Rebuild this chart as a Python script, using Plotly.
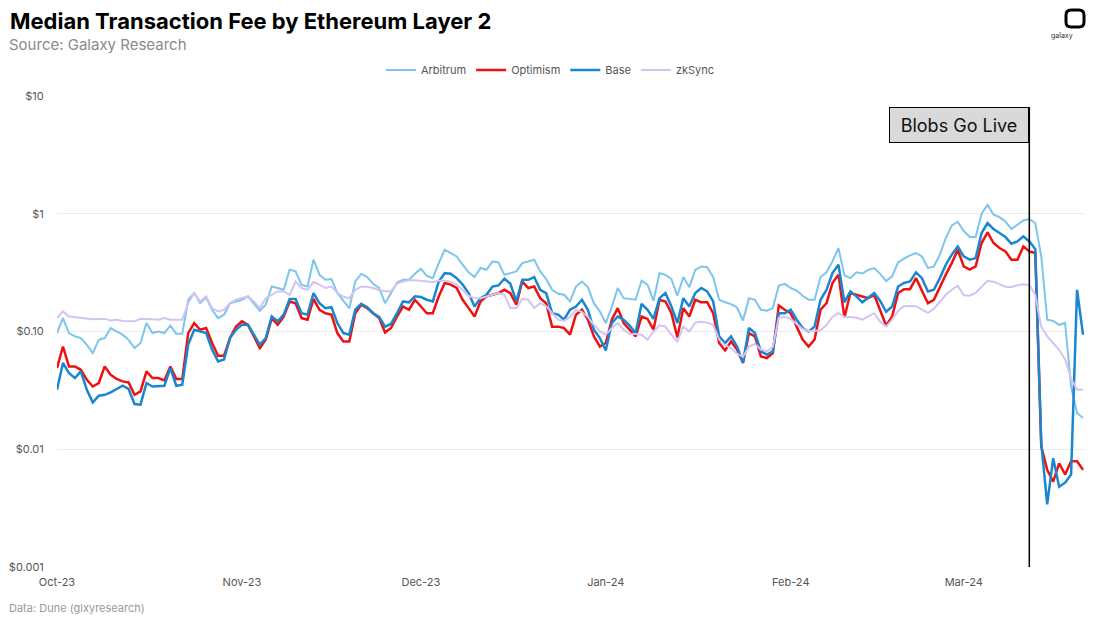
import pandas as pd
import plotly.graph_objects as go

# Daily median fee (USD), 1 Oct 2023 -> 21 Mar 2024
arbitrum = [
    0.097, 0.130, 0.097, 0.091, 0.088, 0.077, 0.0656, 0.085, 0.088, 0.107,
    0.100, 0.094, 0.085, 0.0723, 0.0798, 0.118, 0.097, 0.100, 0.097, 0.112,
    0.0957, 0.0957, 0.186, 0.212, 0.174, 0.195, 0.153, 0.130, 0.139, 0.174,
    0.180, 0.186, 0.199, 0.174, 0.150, 0.169, 0.241, 0.234, 0.226, 0.334,
    0.324, 0.249, 0.241, 0.407, 0.303, 0.275,
    0.279, 0.212, 0.184, 0.157, 0.266, 0.308, 0.290, 0.254, 0.235, 0.174,
    0.212, 0.261, 0.275, 0.275, 0.309, 0.341, 0.297, 0.284, 0.381, 0.495,
    0.464, 0.434, 0.369, 0.318, 0.290, 0.346, 0.334, 0.394, 0.386, 0.303,
    0.313, 0.324, 0.381, 0.394, 0.407, 0.324, 0.279, 0.226, 0.209,
    0.205, 0.180, 0.241, 0.266, 0.238, 0.174, 0.148, 0.118, 0.161, 0.234,
    0.192, 0.189, 0.186, 0.271, 0.249, 0.182, 0.313, 0.303, 0.279, 0.201,
    0.290, 0.238, 0.334, 0.357, 0.352, 0.290, 0.186, 0.177, 0.171, 0.160,
    0.124, 0.192, 0.186, 0.153, 0.150, 0.158, 0.246, 0.254, 0.234, 0.223,
    0.201, 0.186, 0.186, 0.290, 0.318, 0.394, 0.511,
    0.300, 0.284, 0.318, 0.311, 0.334, 0.346, 0.309, 0.268,
    0.294, 0.386, 0.415, 0.443, 0.464, 0.434, 0.346, 0.357, 0.449, 0.622,
    0.796, 0.855, 0.713, 0.634, 0.634, 1.0, 1.19, 0.98, 0.937, 0.86,
    0.74, 0.806, 0.877, 0.90, 0.834, 0.434, 0.126, 0.123, 0.114, 0.118,
    0.0341, 0.0203, 0.0184,
]
optimism = [
    0.0489, 0.0746, 0.0505, 0.0505, 0.0473, 0.0389, 0.0341, 0.0365, 0.0505, 0.0429,
    0.0395, 0.0377, 0.0369, 0.0290, 0.0310, 0.0458, 0.0402, 0.0402, 0.0384, 0.0505,
    0.0395, 0.0395, 0.097, 0.118, 0.1035, 0.107, 0.0798, 0.0622, 0.0622, 0.088,
    0.110, 0.122, 0.114, 0.091, 0.0723, 0.0855, 0.130, 0.114, 0.134, 0.180,
    0.174, 0.130, 0.126, 0.189, 0.153, 0.143,
    0.139, 0.097, 0.0823, 0.0823, 0.143, 0.169, 0.158, 0.143, 0.130, 0.098,
    0.107, 0.134, 0.163, 0.153, 0.186, 0.163, 0.143, 0.143, 0.199, 0.258,
    0.250, 0.234, 0.186, 0.158, 0.134, 0.180, 0.199, 0.205, 0.212, 0.226,
    0.212, 0.169, 0.266, 0.234, 0.241, 0.192, 0.174, 0.110, 0.110,
    0.107, 0.094, 0.139, 0.153, 0.126, 0.091, 0.0746, 0.0798, 0.126, 0.158,
    0.118, 0.1035, 0.091, 0.134, 0.128, 0.1035, 0.186, 0.180, 0.143, 0.089,
    0.158, 0.134, 0.186, 0.177, 0.177, 0.143, 0.0798, 0.069, 0.0823, 0.0703,
    0.054, 0.097, 0.091, 0.0614, 0.0595, 0.0656, 0.166, 0.153, 0.143, 0.110,
    0.0855, 0.0746, 0.0855, 0.153, 0.174, 0.258, 0.304,
    0.131, 0.212, 0.205, 0.199, 0.192, 0.205, 0.150, 0.112,
    0.134, 0.212, 0.229, 0.229, 0.284, 0.219, 0.174, 0.186, 0.241, 0.304,
    0.381, 0.495, 0.357, 0.335, 0.357, 0.564, 0.694, 0.564, 0.511, 0.479,
    0.407, 0.407, 0.528, 0.479, 0.464, 0.0106, 0.0067, 0.0053, 0.0076, 0.0061,
    0.0079, 0.0079, 0.0067,
]
base = [
    0.0320, 0.054, 0.0444, 0.0402, 0.0458, 0.0320, 0.0250, 0.0285, 0.0290, 0.0304,
    0.0325, 0.0346, 0.0325, 0.0242, 0.0239, 0.0365, 0.0341, 0.0346, 0.0346, 0.0489,
    0.0346, 0.0353, 0.0775, 0.1035, 0.100, 0.097, 0.0703, 0.0557, 0.0578, 0.088,
    0.1035, 0.114, 0.114, 0.094, 0.0775, 0.088, 0.134, 0.122, 0.139, 0.189,
    0.189, 0.143, 0.139, 0.212, 0.174, 0.158,
    0.161, 0.118, 0.097, 0.094, 0.153, 0.172, 0.161, 0.143, 0.133, 0.110,
    0.116, 0.143, 0.180, 0.177, 0.199, 0.196, 0.186, 0.180, 0.266, 0.313,
    0.309, 0.284, 0.250, 0.212, 0.163, 0.192, 0.205, 0.241, 0.246, 0.281,
    0.254, 0.180, 0.275, 0.275, 0.290, 0.226, 0.212, 0.143, 0.139,
    0.126, 0.153, 0.163, 0.186, 0.153, 0.1035, 0.088, 0.069, 0.118, 0.134,
    0.126, 0.112, 0.097, 0.172, 0.153, 0.128, 0.192, 0.212, 0.163, 0.118,
    0.192, 0.163, 0.212, 0.234, 0.219, 0.180, 0.091, 0.0798, 0.091, 0.0746,
    0.0546, 0.107, 0.097, 0.0677, 0.0637, 0.0677, 0.143, 0.143, 0.153, 0.126,
    0.107, 0.100, 0.110, 0.186, 0.226, 0.313, 0.369,
    0.177, 0.219, 0.199, 0.177, 0.194, 0.212, 0.182, 0.147,
    0.163, 0.241, 0.258, 0.266, 0.318, 0.284, 0.219, 0.226, 0.284, 0.369,
    0.449, 0.528, 0.434, 0.407, 0.420, 0.686, 0.834, 0.741, 0.686, 0.634,
    0.556, 0.582, 0.642, 0.582, 0.501, 0.0113, 0.0034, 0.0084, 0.0048, 0.0052,
    0.0061, 0.226, 0.094,
]
zksync = [
    0.130, 0.148, 0.134, 0.132, 0.130, 0.128, 0.127, 0.128, 0.128, 0.124,
    0.126, 0.123, 0.122, 0.122, 0.128, 0.128, 0.127, 0.126, 0.130, 0.126,
    0.126, 0.126, 0.174, 0.212, 0.180, 0.199, 0.158, 0.148, 0.153, 0.174,
    0.186, 0.192, 0.199, 0.180, 0.158, 0.192, 0.205, 0.219, 0.219, 0.205,
    0.266, 0.234, 0.226, 0.263, 0.250, 0.234,
    0.241, 0.213, 0.197, 0.192, 0.226, 0.240, 0.240, 0.234, 0.224, 0.220,
    0.220, 0.255, 0.266, 0.272, 0.272, 0.267, 0.266, 0.263, 0.270, 0.270,
    0.265, 0.250, 0.226, 0.200, 0.193, 0.192, 0.197, 0.205, 0.212, 0.205,
    0.158, 0.158, 0.189, 0.186, 0.158, 0.174, 0.164, 0.144, 0.126,
    0.123, 0.133, 0.153, 0.147, 0.133, 0.114, 0.1005, 0.094, 0.107, 0.118,
    0.1035, 0.095, 0.095, 0.094, 0.0855, 0.100, 0.113, 0.110, 0.094, 0.082,
    0.110, 0.100, 0.119, 0.121, 0.119, 0.114, 0.0855, 0.0765, 0.072, 0.065,
    0.0608, 0.0746, 0.0783, 0.0703, 0.0677, 0.074, 0.131, 0.133, 0.128, 0.116,
    0.105, 0.101, 0.101, 0.102, 0.114, 0.133, 0.144,
    0.133, 0.133, 0.131, 0.126, 0.135, 0.143, 0.121, 0.110,
    0.126, 0.150, 0.165, 0.165, 0.164, 0.153, 0.144, 0.156, 0.179, 0.205,
    0.226, 0.245, 0.203, 0.201, 0.213, 0.240, 0.270, 0.265, 0.252, 0.240,
    0.238, 0.247, 0.252, 0.247, 0.205, 0.110, 0.091, 0.079, 0.070, 0.058,
    0.040, 0.032, 0.032,
]

dates = pd.date_range("2023-10-01", periods=len(arbitrum), freq="D")

series_names = ["Arbitrum", "Optimism", "Base", "zkSync"]
series_vals = [arbitrum, optimism, base, zksync]
colors = ["#7cc5ec", "#ee1111", "#1a86d0", "#d3c3f3"]
widths = [2, 2.5, 2.5, 2]

y_tickvals = [0.001, 0.01, 0.1, 1, 10]
y_ticktext = ["$0.001", "$0.01", "$0.10", "$1", "$10"]

blob_date = "2024-03-12"
FONT = "Inter"

fig = go.Figure()
for name, vals, col, w in zip(series_names, series_vals, colors, widths):
    fig.add_trace(go.Scatter(x=dates, y=vals, name=name, mode="lines",
                             line=dict(color=col, width=w)))

# blobs marker line + label box
fig.add_shape(type="line", x0=blob_date, x1=blob_date, y0=0, y1=0.9766,
              xref="x", yref="paper", line=dict(color="black", width=1.5))
fig.add_annotation(x=blob_date, y=0.9766, xref="x", yref="paper",
                   xanchor="right", yanchor="top", text="Blobs Go Live",
                   showarrow=False, width=136, height=32, borderpad=1,
                   bgcolor="#d9d9d9", bordercolor="black", borderwidth=1,
                   font=dict(family=FONT, size=18, color="#111"))

# title, subtitle + footer (as annotations so they sit where the original does)
fig.add_annotation(x=-0.0467, y=1.1582, xref="paper", yref="paper",
                   xanchor="left", yanchor="middle", showarrow=False,
                   text="<b>Median Transaction Fee by Ethereum Layer 2</b>",
                   borderpad=0, font=dict(family=FONT, size=22, color="black"))
fig.add_annotation(x=-0.0477, y=1.1093, xref="paper", yref="paper",
                   xanchor="left", yanchor="middle", showarrow=False,
                   text="Source: Galaxy Research", borderpad=0,
                   font=dict(family=FONT, size=15, color="#8a8a8a"))
fig.add_annotation(x=-0.0477, y=-0.087, xref="paper", yref="paper",
                   xanchor="left", yanchor="middle", showarrow=False,
                   text="Data: Dune (glxyresearch)", borderpad=0,
                   font=dict(family=FONT, size=11, color="#9a9a9a"))

# little logo top right
fig.add_shape(type="path", xref="paper", yref="paper",
              xsizemode="pixel", ysizemode="pixel", xanchor=1, yanchor=1,
              path="M -19,74 Q -19,69 -14,69 L -6,69 Q -1,69 -1,74 L -1,81 "
                   "Q -1,86 -6,86 L -14,86 Q -19,86 -19,81 Z",
              line=dict(color="black", width=3))
fig.add_annotation(x=0.9903, y=1.142, xref="paper", yref="paper",
                   showarrow=False, text="galaxy",
                   font=dict(family=FONT, size=7, color="#333"))

# page body has an 8px margin, so the figure is 8px smaller each way
fig.update_layout(
    width=1092, height=611,
    paper_bgcolor="white", plot_bgcolor="white",
    margin=dict(l=49, r=15, t=88, b=52, autoexpand=False),
    legend=dict(orientation="h", x=0.48, xanchor="center", y=1.055,
                yanchor="middle", font=dict(family=FONT, size=11, color="#555"),
                bgcolor="rgba(0,0,0,0)"),
    showlegend=True,
    font=dict(family=FONT),
)
fig.update_xaxes(range=["2023-10-01", "2024-03-21 08:00"], automargin=False,
                 tick0="2023-10-01", dtick="M1", tickformat="%b-%y",
                 showgrid=False, showline=False, zeroline=False,
                 ticks="outside", ticklen=5, tickcolor="rgba(0,0,0,0)",
                 tickfont=dict(family=FONT, size=11, color="#555"))
fig.update_yaxes(type="log", range=[-3, 1], tickvals=y_tickvals, automargin=False,
                 ticktext=y_ticktext, showgrid=True, gridcolor="#ececec",
                 gridwidth=1, zeroline=False, showline=False,
                 ticks="outside", ticklen=10, tickcolor="rgba(0,0,0,0)",
                 tickfont=dict(family=FONT, size=11, color="#555"))

fig.write_html("out.html")
